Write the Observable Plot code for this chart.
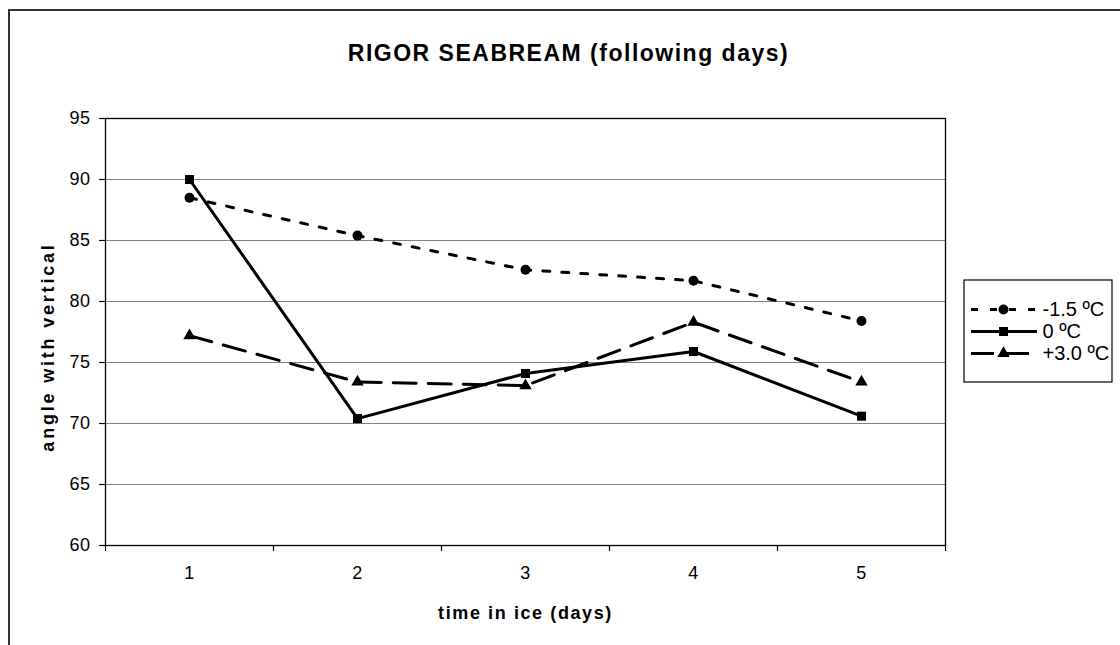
<!DOCTYPE html>
<html><head><meta charset="utf-8">
<script src="https://cdn.jsdelivr.net/npm/d3@7"></script>
<script src="https://cdn.jsdelivr.net/npm/@observablehq/plot@0.6"></script>
<style>
html,body{margin:0;padding:0;background:#fff;width:1120px;height:645px;overflow:hidden;font-family:"Liberation Sans",Arial,sans-serif;}
#chart{position:absolute;left:0;top:0;}
#legend{position:absolute;left:963px;top:279px;}
#frame{position:absolute;left:8px;top:9px;width:1300px;height:800px;border-left:2px solid #333;border-top:2px solid #333;pointer-events:none;}
</style></head><body>
<div id="chart"></div><div id="legend"></div><div id="frame"></div>
<script>
// ---- data ----
const categories = [1, 2, 3, 4, 5];
const seriesNames = ["-1.5 ºC", "0 ºC", "+3.0 ºC"];
const valsMinus15 = [88.5, 85.4, 82.6, 81.7, 78.4];
const valsZero = [90.0, 70.4, 74.1, 75.9, 70.6];
const valsPlus3 = [77.2, 73.4, 73.1, 78.3, 73.4];
const yTicks = [60, 65, 70, 75, 80, 85, 90, 95];
const title = "RIGOR SEABREAM (following days)";
const xLabel = "time in ice (days)";
const yLabel = "angle with vertical";

// ---- styles ----
const styles = [
  {dash: "7,12", symbol: "circle", r: 5},
  {dash: null, symbol: "square", r: 5.1},
  {dash: "23,12", symbol: "triangle", r: 4.6}
];
const seriesVals = [valsMinus15, valsZero, valsPlus3];
const series = seriesNames.map((name, i) => ({
  name,
  values: categories.map((c, j) => ({x: c, y: seriesVals[i][j]})),
  ...styles[i]
}));
const boundaries = [...categories.map(c => c - 0.5), categories[categories.length - 1] + 0.5];

const font = "Liberation Sans, Arial, sans-serif";

const chart = Plot.plot({
  width: 1120, height: 645,
  marginLeft: 105, marginRight: 175, marginTop: 118, marginBottom: 100,
  style: {fontFamily: font, background: "transparent", overflow: "visible", color: "#000"},
  x: {type: "linear", domain: [boundaries[0], boundaries[boundaries.length - 1]], axis: null},
  y: {domain: [yTicks[0], yTicks[yTicks.length - 1]], axis: null},
  marks: [
    Plot.gridY(yTicks.slice(1, -1), {stroke: "#808080", strokeOpacity: 1, strokeWidth: 1}),
    ...series.flatMap(s => [
      Plot.line(s.values, {x: "x", y: "y", stroke: "#000", strokeWidth: 3, strokeDasharray: s.dash ?? undefined}),
      Plot.dot(s.values, {x: "x", y: "y", symbol: s.symbol, r: s.r, fill: "#000", stroke: "none"})
    ]),
    Plot.frame({stroke: "#000", strokeWidth: 1.3}),
    Plot.axisY(yTicks, {tickSize: 6, tickPadding: 9, fontSize: 18, label: null, stroke: "#000", strokeWidth: 1.2, tickFormat: d => String(d)}),
    Plot.axisX(boundaries, {tickSize: 6, tickFormat: () => "", label: null, stroke: "#000", strokeWidth: 1.2}),
    Plot.axisX(categories, {tickSize: 0, tickPadding: 21, fontSize: 18, label: null, tickFormat: d => String(d)}),
    Plot.text([title], {text: d => d, frameAnchor: "top", lineAnchor: "middle", textAnchor: "middle", dx: 43, dy: -65, fontSize: 23, fontWeight: "bold", fill: "#000"}),
    Plot.text([yLabel], {text: d => d, frameAnchor: "left", lineAnchor: "middle", textAnchor: "middle", rotate: -90, dx: -57, dy: 15, fontSize: 18, fontWeight: "bold", fill: "#000"}),
    Plot.text([xLabel], {text: d => d, frameAnchor: "bottom", lineAnchor: "middle", textAnchor: "middle", dy: 68, fontSize: 18, fontWeight: "bold", fill: "#000"})
  ]
});
const sel = d3.select(chart);
const tickTexts = new Set([...yTicks, ...categories].map(String));
sel.selectAll("text").each(function () {
  const t = this.textContent;
  const s = d3.select(this);
  if (tickTexts.has(t)) { s.attr("font-size", 18).style("font-size", "18px").attr("letter-spacing", 0.5).style("letter-spacing", "0.5px"); }
  else if (t === title) { s.attr("letter-spacing", 1.5).style("letter-spacing", "1.5px"); }
  else if (t === xLabel) { s.attr("letter-spacing", 1.6).style("letter-spacing", "1.6px"); }
  else if (t === yLabel) { s.attr("letter-spacing", 2.8).style("letter-spacing", "2.8px"); }
});
document.getElementById("chart").appendChild(chart);

const legend = Plot.plot({
  width: 149, height: 103, margin: 0,
  style: {fontFamily: font, background: "#fff", overflow: "visible", color: "#000"},
  x: {type: "identity", axis: null},
  y: {type: "point", domain: seriesNames, range: [19, 85], axis: null},
  marks: [
    Plot.frame({stroke: "#000", strokeWidth: 1.2, inset: 0.5}),
    ...series.flatMap(s => [
      Plot.ruleY([s.name], {y: d => d, x1: 8, x2: 74, stroke: "#000", strokeWidth: 3, strokeDasharray: s.dash ?? undefined}),
      Plot.dot([s.name], {y: d => d, x: 40, symbol: s.symbol, r: s.r, fill: "#000", stroke: "none"}),
      Plot.text([s.name], {y: d => d, x: 79, text: d => d, textAnchor: "start", fontSize: 20, fill: "#000"})
    ])
  ]
});
document.getElementById("legend").appendChild(legend);
</script>
</body></html>
